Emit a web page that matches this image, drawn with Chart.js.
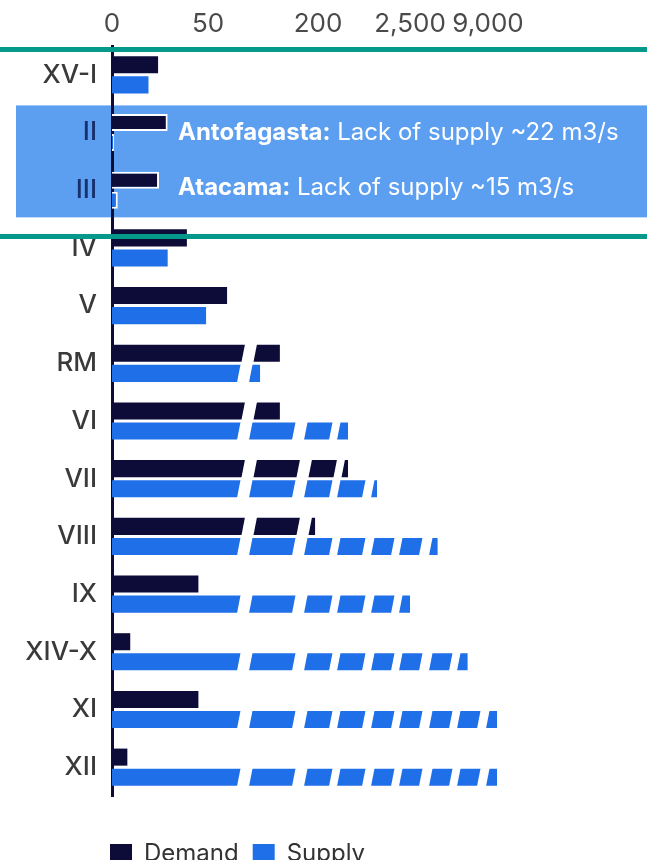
<!DOCTYPE html>
<html>
<head>
<meta charset="utf-8">
<title>Water demand and supply by region</title>
<script src="https://cdn.jsdelivr.net/npm/chart.js@4.4.1/dist/chart.umd.min.js"></script>
<style>
  html, body { margin: 0; padding: 0; background: #fff; overflow: hidden; }
  #wrap { position: relative; width: 647px; height: 860px; }
</style>
</head>
<body>
<div id="wrap"><canvas id="chart"></canvas></div>
<script>
// --- Data (m3/s) ---
const REGIONS = ['XV-I', 'II', 'III', 'IV', 'V', 'RM', 'VI', 'VII', 'VIII', 'IX', 'XIV-X', 'XI', 'XII'];
const DEMAND = [24, 29, 24.5, 39, 76, 148, 148, 950, 196, 45, 9.5, 45, 8];
const SUPPLY = [19, 1, 3, 29, 49, 121, 950, 1675, 4800, 2500, 7300, 9750, 9750];
const TICK_VALUES = [0, 50, 200, 2500, 9000];
const TICK_LABELS = ['0', '50', '200', '2,500', '9,000'];
const SHORTAGE_REGIONS = ['II', 'III'];
const SHORTAGE_NAMES = ['Antofagasta:', 'Atacama:'];
const SHORTAGE_NOTES = [' Lack of supply ~22 m3/s', ' Lack of supply ~15 m3/s'];

// --- Styles ---
const FONT = 'Inter, "Open Sans", sans-serif';
const DEMAND_COLOR = '#0d0b38';
const SUPPLY_COLOR = '#1f6fe8';
const BAND_COLOR = '#5c9ff0';
const TEAL = '#04998a';

// broken value axis: where each tick value sits across the plot (0..1)
const AXIS_STOPS = [0, 0.192, 0.412, 0.596, 0.752];
const AXIS_MAX = 19000;
// white slanted cuts on long bars, px from the axis at the category centre
const CUTS = [[129, 141], [184, 196], [221, 229], [254, 263], [283, 291], [311, 321], [341, 349], [369, 378]];
const SLANT = 0.22;

function toFrac(v) {
    const n = TICK_VALUES.length;
    if (v <= 0) return 0;
    for (let i = 0; i < n - 1; i++) {
        if (v <= TICK_VALUES[i + 1]) {
            const t = (v - TICK_VALUES[i]) / (TICK_VALUES[i + 1] - TICK_VALUES[i]);
            return AXIS_STOPS[i] + t * (AXIS_STOPS[i + 1] - AXIS_STOPS[i]);
        }
    }
    const slope = (AXIS_STOPS[n - 1] - AXIS_STOPS[n - 2]) / (TICK_VALUES[n - 1] - TICK_VALUES[n - 2]);
    return AXIS_STOPS[n - 1] + (v - TICK_VALUES[n - 1]) * slope;
}

function fromFrac(f) {
    const n = TICK_VALUES.length;
    for (let i = 0; i < n - 1; i++) {
        if (f <= AXIS_STOPS[i + 1]) {
            const t = (f - AXIS_STOPS[i]) / (AXIS_STOPS[i + 1] - AXIS_STOPS[i]);
            return TICK_VALUES[i] + t * (TICK_VALUES[i + 1] - TICK_VALUES[i]);
        }
    }
    const slope = (TICK_VALUES[n - 1] - TICK_VALUES[n - 2]) / (AXIS_STOPS[n - 1] - AXIS_STOPS[n - 2]);
    return TICK_VALUES[n - 1] + (f - AXIS_STOPS[n - 1]) * slope;
}

class BrokenScale extends Chart.LinearScale {
    buildTicks() { return TICK_VALUES.map(value => ({ value })); }
    getPixelForValue(value) { return this.getPixelForDecimal(toFrac(value)); }
    getValueForPixel(pixel) { return fromFrac(this.getDecimalForPixel(pixel)); }
}
BrokenScale.id = 'broken';
BrokenScale.defaults = Chart.LinearScale.defaults;
Chart.register(BrokenScale);

const inBand = i => SHORTAGE_REGIONS.includes(REGIONS[i]);

// --- Plugins ---
const bandPlugin = {
    id: 'band',
    beforeDraw(chart) {
        const { ctx, width } = chart;
        const y = chart.scales.y;
        const step = y.getPixelForValue(1) - y.getPixelForValue(0);
        const first = REGIONS.indexOf(SHORTAGE_REGIONS[0]);
        const last = REGIONS.indexOf(SHORTAGE_REGIONS[SHORTAGE_REGIONS.length - 1]);
        const top = y.getPixelForValue(first) - step * 0.47;
        const bottom = y.getPixelForValue(last) + step * 0.47;
        ctx.save();
        ctx.fillStyle = BAND_COLOR;
        ctx.fillRect(16, top, width - 16, bottom - top);
        ctx.restore();
    },
    afterDatasetsDraw(chart) {
        const { ctx, chartArea } = chart;
        const y = chart.scales.y;
        ctx.save();
        ctx.textBaseline = 'middle';
        ctx.fillStyle = '#fff';
        SHORTAGE_REGIONS.forEach((r, k) => {
            const cy = y.getPixelForValue(REGIONS.indexOf(r)) - k * 2;
            const x = chartArea.left + 66;
            ctx.font = `bold 24px ${FONT}`;
            ctx.fillText(SHORTAGE_NAMES[k], x, cy);
            const w = ctx.measureText(SHORTAGE_NAMES[k]).width;
            ctx.font = `24px ${FONT}`;
            ctx.fillText(SHORTAGE_NOTES[k], x + w, cy);
        });
        ctx.restore();
    }
};

const cutsPlugin = {
    id: 'cuts',
    afterDatasetsDraw(chart) {
        const { ctx, chartArea } = chart;
        const yScale = chart.scales.y;
        chart.data.datasets.forEach((ds, di) => {
            chart.getDatasetMeta(di).data.forEach((bar, i) => {
                const { x, y, base, height } = bar.getProps(['x', 'y', 'base', 'height'], true);
                const top = y - height / 2, bottom = y + height / 2;
                const cy = yScale.getPixelForValue(i);
                ctx.save();
                ctx.beginPath();
                ctx.rect(base, top - 1, x - base + 1, height + 2);
                ctx.clip();
                ctx.fillStyle = '#fff';
                CUTS.forEach(([a, b]) => {
                    const xa = chartArea.left + a, xb = chartArea.left + b;
                    ctx.beginPath();
                    ctx.moveTo(xa + (cy - top) * SLANT, top - 1);
                    ctx.lineTo(xb + (cy - top) * SLANT, top - 1);
                    ctx.lineTo(xb + (cy - bottom) * SLANT, bottom + 1);
                    ctx.lineTo(xa + (cy - bottom) * SLANT, bottom + 1);
                    ctx.closePath();
                    ctx.fill();
                });
                ctx.restore();
            });
        });
    }
};

const overlayPlugin = {
    id: 'overlay',
    afterLayout(chart) {
        const lg = chart.legend;
        lg.top += 32; lg.bottom += 32;
        lg.left -= 16; lg.right -= 16;
    },
    afterDraw(chart) {
        const { ctx, width } = chart;
        const y = chart.scales.y;
        const step = y.getPixelForValue(1) - y.getPixelForValue(0);
        const lines = [y.getPixelForValue(0) - step * 0.44, y.getPixelForValue(3) - step * 0.2];
        ctx.save();
        ctx.strokeStyle = TEAL;
        ctx.lineWidth = 5;
        lines.forEach(ly => {
            ctx.beginPath();
            ctx.moveTo(0, ly);
            ctx.lineTo(width, ly);
            ctx.stroke();
        });
        ctx.restore();
    }
};

// --- Chart ---
function barStyle(color) {
    return {
        backgroundColor: color,
        borderColor: c => inBand(c.dataIndex) ? '#ffffff' : color,
        borderWidth: c => inBand(c.dataIndex) ? 2 : 0,
        categoryPercentage: 0.696,
        barPercentage: 0.85
    };
}

new Chart(document.getElementById('chart'), {
    type: 'bar',
    data: {
        labels: REGIONS,
        datasets: [
            Object.assign({ label: 'Demand', data: DEMAND }, barStyle(DEMAND_COLOR)),
            Object.assign({ label: 'Supply', data: SUPPLY }, barStyle(SUPPLY_COLOR))
        ]
    },
    options: {
        indexAxis: 'y',
        responsive: true,
        maintainAspectRatio: false,
        animation: false,
        layout: { padding: { left: 0, right: 35, top: 0, bottom: 16 } },
        scales: {
            x: {
                type: 'broken',
                position: 'top',
                min: 0,
                max: AXIS_MAX,
                grid: { display: false, drawTicks: false },
                border: { display: false },
                ticks: {
                    autoSkip: false,
                    maxRotation: 0,
                    padding: 6,
                    color: '#4a4a4a',
                    font: { family: FONT, size: 26 },
                    callback: (v, i) => TICK_LABELS[i]
                },
                afterFit: s => { s.height = 46; }
            },
            y: {
                grid: { display: false, drawTicks: false },
                border: { display: true, color: DEMAND_COLOR, width: 3 },
                ticks: {
                    padding: 15,
                    color: c => inBand(c.index) ? '#17306e' : '#3a3a3a',
                    font: { family: FONT, size: 26, weight: '500' }
                },
                afterFit: s => { s.width = 112; }
            }
        },
        plugins: {
            legend: {
                position: 'bottom',
                align: 'start',
                fullSize: false,
                labels: {
                    boxWidth: 22,
                    boxHeight: 20,
                    padding: 14,
                    color: '#333',
                    font: { family: FONT, size: 24 }
                }
            },
            tooltip: { enabled: false }
        }
    },
    plugins: [bandPlugin, cutsPlugin, overlayPlugin]
});
</script>
</body>
</html>
